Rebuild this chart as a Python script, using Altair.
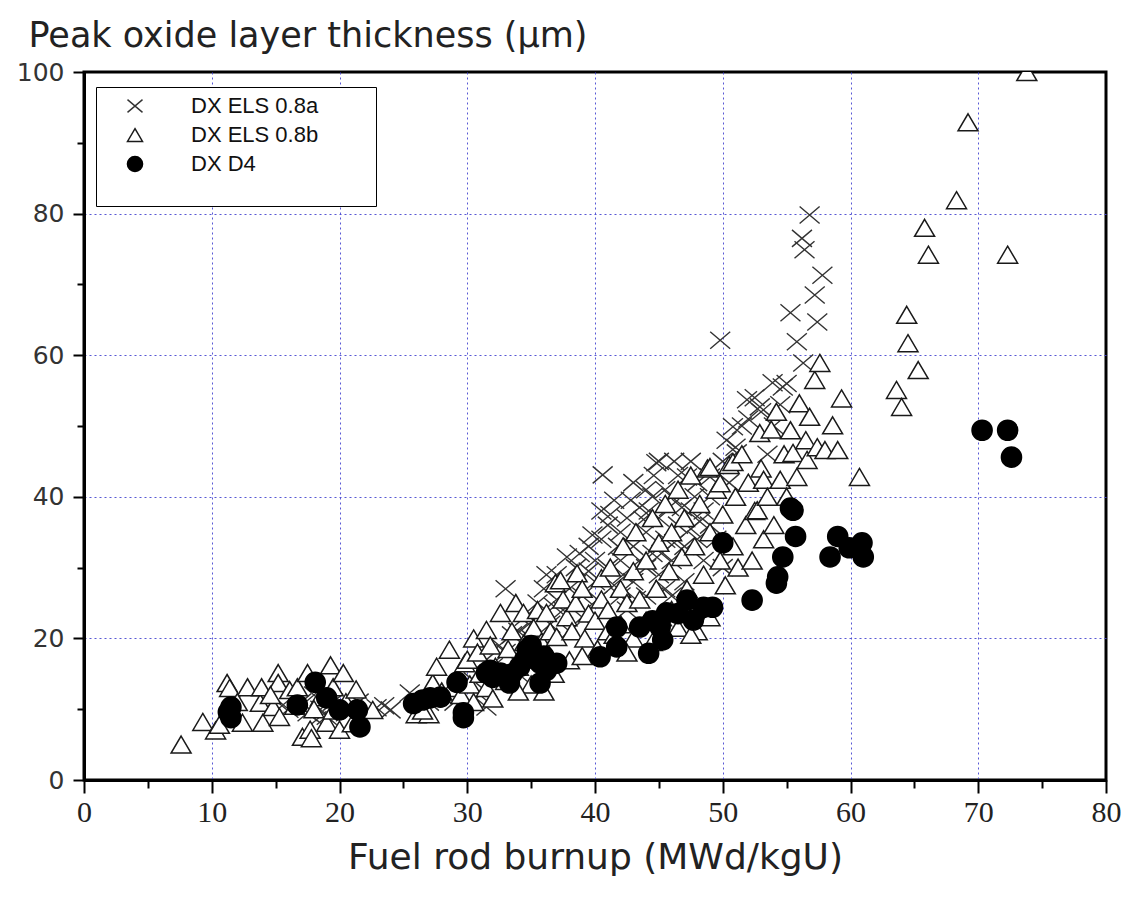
import altair as alt
import pandas as pd

SERIES = ["DX ELS 0.8a", "DX ELS 0.8b", "DX D4"]

# [burnup (MWd/kgU), peak oxide thickness (um)]
ELS_08A = [
    [15.5, 10.5], [16.0, 10.0], [17.0, 11.0], [17.5, 9.5], [18.0, 12.0], [18.2, 8.5], [18.5, 10.0],
    [19.0, 9.0], [19.5, 11.0], [20.0, 10.5], [20.5, 9.5], [21.5, 11.0], [22.9, 10.2], [24.0, 9.9],
    [23.5, 10.5], [25.5, 12.3], [26.0, 11.5], [27.0, 11.0], [28.0, 12.0], [29.0, 11.0], [30.0, 13.5],
    [30.5, 14.0], [31.0, 12.0], [31.5, 10.3], [31.5, 17.0], [32.0, 16.0], [32.5, 19.0], [33.0, 18.0],
    [33.0, 27.0], [33.5, 20.5], [34.0, 21.0], [34.5, 23.0], [35.0, 20.0], [35.5, 25.0], [36.0, 27.0],
    [36.5, 22.0], [37.0, 29.0], [37.5, 24.0], [38.0, 27.0], [38.5, 30.0], [39.0, 26.0], [39.5, 33.0],
    [39.8, 34.6], [40.0, 28.0], [40.0, 31.0], [40.5, 38.0], [40.6, 43.1], [41.0, 30.0], [41.0, 36.0],
    [41.5, 39.5], [41.8, 33.0], [42.0, 26.0], [42.0, 31.0], [42.0, 35.0], [42.5, 24.0], [42.5, 37.0],
    [43.0, 28.0], [43.0, 33.0], [43.0, 42.0], [43.5, 38.5], [43.8, 36.8], [44.0, 26.0], [44.0, 30.0],
    [44.0, 35.0], [44.0, 41.0], [44.5, 32.0], [44.5, 40.0], [44.8, 44.8], [45.0, 29.0], [45.0, 37.0],
    [45.0, 45.0], [45.5, 34.0], [45.5, 41.0], [46.0, 26.0], [46.0, 31.0], [46.0, 40.0], [46.5, 36.0],
    [46.5, 43.0], [46.8, 38.5], [47.0, 28.0], [47.0, 33.0], [47.2, 42.8], [47.5, 38.0], [47.5, 45.0],
    [47.8, 40.0], [48.0, 34.0], [48.0, 42.0], [48.5, 31.0], [48.5, 38.0], [49.0, 36.0], [49.0, 40.0],
    [49.0, 42.8], [49.5, 34.0], [49.8, 62.1], [50.0, 30.0], [50.0, 45.0], [50.3, 48.0], [50.5, 42.0],
    [50.8, 49.9], [51.0, 47.0], [51.1, 46.2], [51.5, 50.0], [51.9, 53.7], [52.0, 51.0], [52.5, 54.0],
    [52.9, 52.7], [53.0, 52.0], [53.5, 46.0], [53.9, 56.1], [54.0, 50.0], [54.5, 53.0], [54.7, 55.5],
    [55.0, 56.0], [55.3, 66.0], [55.8, 61.9], [56.2, 76.5], [56.3, 58.9], [56.4, 74.9], [56.8, 79.8],
    [57.2, 68.5], [57.4, 64.7], [57.8, 71.3], [43.5, 31.0], [45.5, 27.0], [41.5, 27.5], [39.0, 23.0],
    [37.0, 25.5], [35.0, 17.0], [34.0, 15.0], [36.0, 19.0], [38.0, 21.0],
    [40.5, 34.0], [41.2, 37.5], [42.8, 39.5], [43.2, 25.5], [44.2, 38.0], [45.2, 32.0], [45.8, 38.5],
    [46.2, 33.5], [47.5, 35.5], [48.2, 36.5], [38.8, 32.0], [39.5, 29.5], [37.8, 31.5], [36.8, 24.5],
    [34.8, 22.0], [36.2, 29.0], [40.2, 25.5], [42.2, 29.0], [44.6, 43.0], [46.2, 45.0],
]

ELS_08B = [
    [7.6, 5.0], [9.3, 8.2], [10.3, 7.0], [10.6, 7.8], [11.2, 13.7], [11.4, 13.0], [12.4, 8.1],
    [12.8, 13.1], [13.8, 10.9], [13.9, 13.1], [14.0, 8.1], [14.8, 10.3], [15.2, 15.1], [15.2, 13.7],
    [15.3, 8.9], [16.1, 12.7], [16.7, 13.1], [17.1, 6.1], [17.5, 15.1], [17.7, 7.1], [18.5, 11.7],
    [19.0, 8.1], [19.3, 16.2], [19.5, 13.1], [20.0, 7.1], [20.3, 15.1], [20.5, 11.0], [21.3, 12.8],
    [22.6, 9.9], [16.5, 10.5], [18.0, 10.0], [19.5, 9.8], [21.0, 8.0], [17.8, 5.9], [12.0, 11.0],
    [14.6, 12.0], [26.0, 9.3], [27.0, 9.3], [26.5, 9.8],
    [27.3, 13.7], [27.6, 16.0], [28.0, 12.5], [28.6, 18.4], [28.8, 13.0], [29.5, 12.0], [29.8, 16.5],
    [30.0, 17.0], [30.2, 13.5], [30.5, 20.0], [30.8, 18.0], [31.0, 15.0], [31.5, 21.2], [31.5, 13.0],
    [31.8, 19.0], [32.2, 16.0], [32.6, 23.6], [33.0, 14.0], [33.2, 18.5], [33.5, 21.0], [33.8, 25.0],
    [34.0, 16.0], [34.4, 23.6], [34.5, 19.5], [35.0, 13.5], [35.2, 21.5], [35.5, 24.0], [35.8, 19.5],
    [36.2, 23.6], [36.5, 21.0], [36.8, 15.0], [36.9, 27.8], [37.0, 20.2], [37.3, 28.2], [37.5, 25.5],
    [37.8, 23.0], [38.0, 16.9], [38.2, 21.0], [38.6, 29.2], [38.5, 25.0], [39.0, 27.0], [39.2, 20.0],
    [39.5, 23.5], [40.0, 22.5], [40.2, 18.5], [40.5, 25.5], [40.5, 28.5], [41.0, 24.0], [41.0, 21.0],
    [41.2, 30.0], [41.5, 20.5], [42.0, 27.0], [42.0, 22.0], [42.2, 33.0], [42.5, 25.0], [43.0, 29.5],
    [43.0, 20.0], [43.2, 35.0], [43.5, 25.5], [44.0, 31.0], [44.0, 22.5], [44.5, 37.0], [44.8, 27.0],
    [45.0, 33.5], [45.2, 23.0], [45.5, 39.0], [45.8, 29.5], [46.0, 35.0], [46.0, 24.0], [46.5, 41.0],
    [46.8, 31.5], [47.0, 37.0], [47.2, 27.0], [47.5, 43.0], [47.8, 33.0], [48.0, 21.0], [48.2, 39.0],
    [48.5, 29.0], [48.8, 44.0], [49.0, 35.0], [49.0, 23.0], [49.0, 44.2], [49.5, 41.0], [49.8, 31.0],
    [49.8, 41.9], [50.0, 37.5], [50.2, 27.5], [50.5, 44.5], [50.8, 33.0], [50.8, 44.9], [51.0, 40.0],
    [51.2, 30.0], [51.5, 46.0], [51.8, 36.0], [52.0, 42.0], [52.3, 31.0], [52.5, 38.0], [52.7, 38.1],
    [52.9, 49.0], [53.0, 44.0], [53.2, 42.4], [53.2, 34.0], [53.5, 40.0], [53.8, 49.5], [54.0, 36.0],
    [54.2, 52.0], [54.5, 42.4], [54.8, 46.0], [55.0, 40.0], [55.3, 49.4], [55.5, 46.2], [55.8, 42.8],
    [56.0, 53.2], [56.5, 48.0], [56.6, 45.2], [56.8, 51.3], [57.2, 56.5], [57.4, 47.0], [57.6, 58.9],
    [58.0, 46.6], [58.6, 50.1], [59.0, 46.6], [59.3, 53.9], [60.7, 42.8], [63.6, 55.1], [64.0, 52.7],
    [64.4, 65.7], [64.5, 61.7], [65.3, 57.9], [65.8, 78.0], [66.1, 74.2], [68.3, 81.9], [69.2, 92.9],
    [72.3, 74.2], [73.8, 100.0],
    [42.5, 18.0], [44.5, 19.5], [46.5, 21.5], [47.5, 20.5], [39.0, 17.5], [36.0, 12.5], [34.0, 12.5],
    [32.0, 11.5], [30.5, 11.0],
]

D4 = [
    [11.5, 10.3], [11.5, 8.8], [11.3, 9.6], [16.7, 10.6], [18.1, 13.8], [19.0, 11.6], [20.0, 9.9],
    [21.4, 9.9], [21.6, 7.5], [25.8, 10.8], [27.1, 11.6], [27.9, 11.7], [26.5, 11.3], [29.2, 13.8],
    [29.7, 9.5], [29.7, 8.8], [31.5, 15.1], [31.8, 15.5], [32.6, 15.1], [33.3, 13.7], [34.1, 16.0],
    [34.7, 18.4], [35.1, 17.4], [35.7, 16.5], [36.2, 15.5], [35.7, 13.7], [34.5, 17.0], [35.0, 19.0],
    [33.5, 15.0], [36.0, 17.5], [37.0, 16.5], [32.0, 14.5], [40.4, 17.4], [41.7, 18.8], [41.7, 21.6],
    [43.5, 21.6], [44.2, 17.9], [44.5, 22.5], [45.1, 21.6], [45.3, 19.8], [45.6, 23.6], [46.5, 23.5],
    [47.2, 25.4], [47.7, 22.6], [48.5, 24.4], [49.2, 24.4], [50.0, 33.5], [52.3, 25.4], [54.2, 27.8],
    [54.3, 28.7], [54.7, 31.5], [55.5, 38.1], [55.7, 34.4], [55.3, 38.4], [59.0, 34.4], [58.4, 31.5],
    [59.9, 32.8], [60.9, 33.5], [61.0, 31.5], [70.3, 49.4], [72.3, 49.4], [72.6, 45.6],
]

rows = []
for order, (name, pts) in enumerate(zip(SERIES, [ELS_08A, ELS_08B, D4])):
    for bx, oy in pts:
        rows.append({"burnup": bx, "oxide": oy, "series": name, "ord": order})
df = pd.DataFrame(rows)

X_PATH = "M-1,-0.85L1,0.85M-1,0.85L1,-0.85"
TRI_PATH = "M0,-0.85L1,0.85L-1,0.85Z"
CIRC_PATH = "M1,0A1,1,0,1,1,-1,0A1,1,0,1,1,1,0Z"

NB = "\u00a0"
leg = alt.Legend(
    title=NB, titleOrient="right", titleFont="DejaVu Sans", titleFontSize=126, titlePadding=50,
    orient="none", legendX=12, legendY=15,
    strokeColor="black", fillColor="white", padding=8,
    symbolOffset=20, labelOffset=45, rowPadding=7,
    labelFont="Liberation Sans", labelFontSize=22, labelColor="#111111", labelLimit=500,
    symbolSize=225, symbolStrokeWidth=1.5,
)

major_x = "datum.value % 10 === 0"
xaxis = alt.Axis(
    values=list(range(0, 81, 5)),
    labelExpr=f"{major_x} ? datum.label : ''",
    tickSize={"condition": {"test": major_x, "value": 13}, "value": 8},
    tickColor="black", tickWidth=2,
    gridOpacity={"condition": {"test": f"{major_x} && datum.value > 0 && datum.value < 80", "value": 0.9}, "value": 0},
    labelFont="Liberation Sans Narrow", labelFontSize=30, labelColor="#222222",
    labelPadding=4, labelFlush=False, labelOverlap=False,
    title="Fuel rod burnup (MWd/kgU)", titleFont="DejaVu Sans", titleFontSize=36,
    titleFontWeight="normal", titleColor="#222222", titleY=88, titleBaseline="alphabetic",
)

major_y = "datum.value % 20 === 0"
yaxis = alt.Axis(
    values=list(range(0, 101, 10)),
    labelExpr=f"{major_y} ? datum.label : ''",
    tickSize={"condition": {"test": major_y, "value": 11}, "value": 7},
    tickColor="black", tickWidth=2,
    gridOpacity={"condition": {"test": f"{major_y} && datum.value > 0 && datum.value < 100", "value": 0.9}, "value": 0},
    labelFont="DejaVu Sans", labelFontSize=25, labelColor="#333333",
    labelPadding=9, labelFlush=False, labelOverlap=False,
    title="Peak oxide layer thickness (µm)", titleFont="DejaVu Sans", titleFontSize=35,
    titleFontWeight="normal", titleColor="#222222", titleAngle=0,
    titleX=-56, titleY=-26, titleAlign="left", titleBaseline="alphabetic",
)

chart = alt.Chart(df).mark_point(size=400, opacity=1, clip=True).encode(
    x=alt.X("burnup:Q", scale=alt.Scale(domain=[0, 80], nice=False, zero=False), axis=xaxis),
    y=alt.Y("oxide:Q", scale=alt.Scale(domain=[0, 100], nice=False), axis=yaxis),
    shape=alt.Shape("series:N", scale=alt.Scale(domain=SERIES, range=[X_PATH, TRI_PATH, CIRC_PATH]), legend=leg),
    fill=alt.Fill("series:N", scale=alt.Scale(domain=SERIES, range=["transparent", "white", "black"]), legend=leg),
    stroke=alt.Stroke("series:N", scale=alt.Scale(domain=SERIES, range=["#333333", "#1a1a1a", "#000000"]), legend=leg),
    strokeWidth=alt.StrokeWidth("series:N", scale=alt.Scale(domain=SERIES, range=[1.4, 1.6, 1.0]), legend=None),
    order=alt.Order("ord:Q"),
).properties(
    width=1022, height=708,
    autosize=alt.AutoSizeParams(type="none"),
    padding={"left": 84, "top": 72, "right": 23, "bottom": 122},
).configure(
    background="white",
).configure_view(
    stroke="black", strokeWidth=3,
).configure_axis(
    domainColor="black", domainWidth=3,
    gridColor="#4646d0", gridDash=[2, 3], gridWidth=1,
)

chart.save("out.html", embed_options={"renderer": "svg", "actions": False})
